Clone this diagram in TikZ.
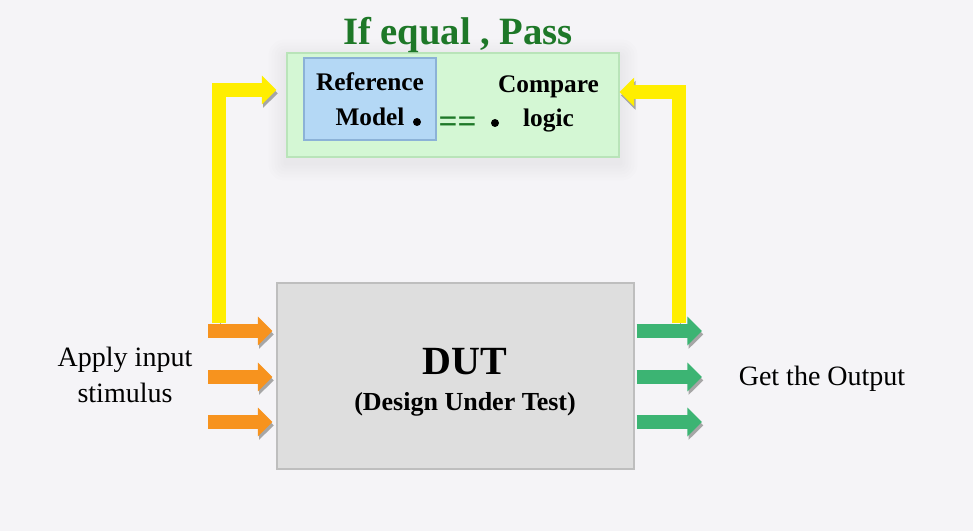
\documentclass[tikz,border=0pt]{standalone}
\usepackage{fontspec}
\setmainfont{Liberation Serif}
\usetikzlibrary{arrows.meta}
\definecolor{bgcol}{RGB}{245,244,247}
\definecolor{inorange}{RGB}{247,147,30}
\definecolor{outgreen}{RGB}{60,180,115}
\definecolor{fbyellow}{RGB}{255,238,0}
\definecolor{passgreen}{RGB}{30,120,40}
\definecolor{cmpfill}{RGB}{212,247,212}
\definecolor{cmpline}{RGB}{185,228,185}
\definecolor{reffill}{RGB}{180,216,245}
\definecolor{refline}{RGB}{140,178,215}
\definecolor{dutfill}{RGB}{222,222,222}
\definecolor{dutline}{RGB}{190,190,190}
\begin{document}
\begin{tikzpicture} [x=0.75pt, y=-0.75pt]
    \tikzstyle{every node} = [align=center, inner sep=0pt]
    \tikzstyle{box} = [draw, rectangle, line width=0.8pt]
    \tikzstyle{cmpbox} = [box, draw=cmpline, fill=cmpfill, minimum width=249pt, minimum height=78pt]
    \tikzstyle{refbox} = [box, draw=refline, fill=reffill, minimum width=99pt, minimum height=61.5pt, font=\bfseries\fontsize{19}{26}\selectfont]
    \tikzstyle{dutbox} = [box, draw=dutline, fill=dutfill, minimum width=267.75pt, minimum height=139.5pt]
    \tikzstyle{bold label} = [font=\bfseries\fontsize{19}{26}\selectfont]
    \tikzstyle{plain label} = [font=\fontsize{21}{27}\selectfont]
    \tikzstyle{dot} = [circle, fill=black, minimum size=6pt]
    \tikzstyle{fat} = [line width=10pt, -{Triangle[length=11pt, width=21pt]},
        preaction={draw=black!35, transform canvas={shift={(1pt,-2.5pt)}}}]
    \tikzstyle{inarrow} = [fat, draw=inorange, shorten >=3pt]
    \tikzstyle{outarrow} = [fat, draw=outgreen, shorten <=1.5pt]
    \tikzstyle{fbarrow} = [fat, draw=fbyellow]
    \useasboundingbox [fill=bgcol] (0,0) rectangle (973,531);

    % compare block
    \node [cmpbox] (cmp) at (453,105) {};
    \foreach \g in {1,...,6}
        \fill [black, opacity=0.009, rounded corners=2*\g pt]
            ([shift={(-3*\g,-3*\g+5)}]cmp.north west) rectangle ([shift={(3*\g,3*\g+5)}]cmp.south east);
    \node [cmpbox] at (cmp) {};
    \node [refbox] (ref) at (370,99) {Reference\\Model};
    \node [bold label] (logic) at (548.5,104) {Compare\\logic};
    \node [dot] (mdot) at (417,122) {};
    \node [dot] (ldot) at (495,123) {};
    \node [font=\bfseries\fontsize{25}{25}\selectfont, text=passgreen] (eq) at (457.5,125) {==};
    \node [font=\bfseries\fontsize{29}{34}\selectfont, text=passgreen, anchor=base] (pass) at (458,45) {If equal , Pass};

    % DUT
    \node [dutbox] (dut) at (455.5,376) {};
    \node [font=\bfseries\fontsize{30}{30}\selectfont, anchor=base] (dutname) at (465,374) {DUT};
    \node [font=\bfseries\fontsize{19.5}{24}\selectfont, anchor=base] (dutlong) at (465,410) {(Design Under Test)};
    \node [plain label] (stim) at (125,374.5) {Apply input\\stimulus};
    \node [plain label, anchor=base] (getout) at (822,385) {Get the Output};

    % feedback
    \coordinate (tapl) at (219,323);
    \coordinate (tapr) at (679,323);
    \draw [fbarrow, shorten >=7.5pt] (tapl) |- ([yshift=11.25pt]cmp.west);
    \draw [fbarrow] (tapr) |- ([yshift=9.75pt]cmp.east);

    % ports
    \foreach \i/\y in {1/331, 2/377, 3/422} {
        \coordinate (in\i) at (208,\y);
        \coordinate (out\i) at (702,\y);
        \draw [inarrow] (in\i) -- (dut.west |- in\i);
        \draw [outarrow] (dut.east |- out\i) -- (out\i);
    }
\end{tikzpicture}
\end{document}
